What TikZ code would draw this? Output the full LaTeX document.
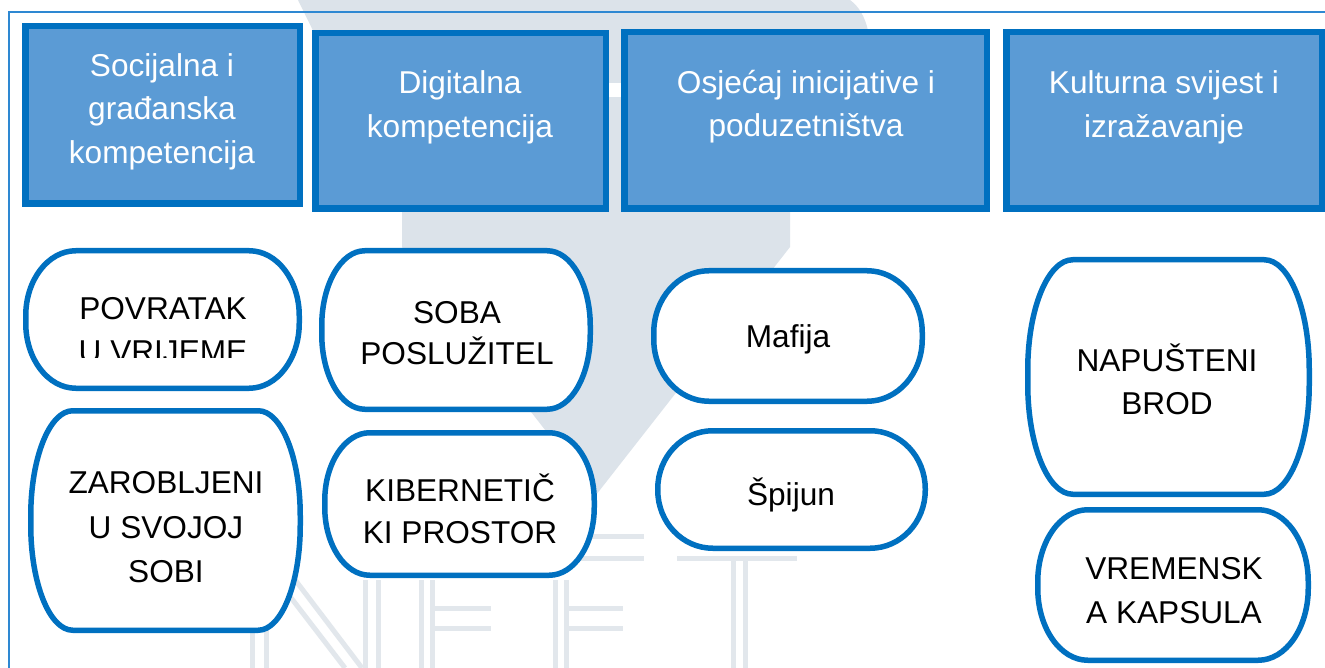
\documentclass[tikz,border=0pt]{standalone}
\usepackage{fontspec}
\setmainfont{Liberation Sans}
\definecolor{headfill}{HTML}{5B9BD5}
\definecolor{boxblue}{HTML}{0070C0}
\definecolor{framecol}{HTML}{2E88D2}
\definecolor{wm}{HTML}{DCE3EA}
\definecolor{wml}{HTML}{E2E7EC}
\newcommand\ls{\rule[-8.6pt]{0pt}{40pt}}
\newcommand\fsz[1]{\fontsize{31.6}{#1}\selectfont}
% rounded box with elliptic corners: outer x0 y0 x1 y1 rx ry
\newcommand\rbox[6]{%
  \draw[rboxline] ({#1+2.75+#5},{#2+2.75}) -- ({#3-2.75-#5},{#2+2.75})
    arc[start angle=-90,end angle=0,x radius=#5,y radius=#6]
    -- ({#3-2.75},{#4-2.75-#6})
    arc[start angle=0,end angle=90,x radius=#5,y radius=#6]
    -- ({#1+2.75+#5},{#4-2.75})
    arc[start angle=90,end angle=180,x radius=#5,y radius=#6]
    -- ({#1+2.75},{#2+2.75+#6})
    arc[start angle=180,end angle=270,x radius=#5,y radius=#6] -- cycle;}
\tikzset{
  rboxline/.style={draw=boxblue,fill=white,line width=5.5pt},
  head/.style={rectangle,draw=boxblue,fill=headfill,line width=6.5pt,inner sep=0pt},
  headtext/.style={text=white,align=center,inner sep=0pt,font=\fsz{43.5}},
  boxtext/.style={text=black,align=center,inner sep=0pt},
  wmline/.style={draw=wml,line width=5pt},
}
\begin{document}
\begin{tikzpicture}[x=1pt,y=-1pt]
\useasboundingbox (0,0) rectangle (1325,668);
\fill[white] (0,0) rectangle (1325,668);
% watermark
\fill[wm] (298,0) -- (850,0) .. controls (885,25) and (880,120) .. (790,212) -- (790,247) -- (596,495) -- (402,247) -- (402,212) -- cycle;
\fill[white] (600,83) rectangle (621,97);
\draw[wmline] (252,600) -- (252,668);
\draw[wmline] (266,600) -- (266,668);
\draw[wmline] (262,560) -- (345,668);
\draw[wmline] (280,560) -- (362,668);
\draw[wmline] (365,580) -- (365,668);
\draw[wmline] (378,580) -- (378,668);
\draw[wmline] (421,580) -- (421,668);
\draw[wmline] (432,580) -- (432,668);
\draw[wmline] (432,608) -- (491,608);
\draw[wmline] (432,628) -- (491,628);
\draw[wmline] (555,580) -- (555,668);
\draw[wmline] (566,580) -- (566,668);
\draw[wmline] (566,608) -- (623,608);
\draw[wmline] (566,628) -- (623,628);
\draw[wmline] (566,536) -- (644,536);
\draw[wmline] (566,558) -- (644,558);
\draw[wmline] (677,536) -- (797,536);
\draw[wmline] (677,558) -- (797,558);
\draw[wmline] (733,558) -- (733,668);
\draw[wmline] (745,558) -- (745,668);
% frame
\draw[framecol,line width=1.5pt] (1325,12) -- (9,12) -- (9,668);
% headers
\node[head,minimum width=274.5pt,minimum height=177.5pt] (h1) at (162.5,115) {};
\node[head,minimum width=290.5pt,minimum height=175.5pt] (h2) at (460.5,121) {};
\node[head,minimum width=362.5pt,minimum height=176.5pt] (h3) at (805.5,120.5) {};
\node[head,minimum width=315.5pt,minimum height=176.5pt] (h4) at (1164,120.5) {};
\node[headtext] (h1t) at (162,108.3) {\ls Socijalna i\\\ls građanska\\\ls kompetencija};
\node[headtext] (h2t) at (460,104) {\ls Digitalna\\\ls kompetencija};
\node[headtext] (h3t) at (806,103.5) {\ls Osjećaj inicijative i\\\ls poduzetništva};
\node[headtext] (h4t) at (1164,104) {\ls Kulturna svijest i\\\ls izražavanje};
% rounded boxes
\rbox{23}{248}{302}{391}{50}{65}
\rbox{28}{408}{303}{633}{42}{105}
\rbox{319}{248}{593}{412}{43}{75}
\rbox{322}{430}{597}{578}{45}{68}
\rbox{651}{268}{925}{404}{55}{62}
\rbox{655}{428}{928}{551}{55}{58}
\rbox{1025}{257}{1312}{497}{45}{110}
\rbox{1035}{507}{1311}{663}{50}{72}
\begin{scope}
\clip (23,248) rectangle (302,357);
\node[boxtext,font=\fsz{43.5}] (povratak) at (163,329.75) {\ls POVRATAK\\\ls U VRIJEME};
\end{scope}
\node[boxtext,font=\fsz{44.5}] (zarobljeni) at (166,526.7) {\ls ZAROBLJENI\\\ls U SVOJOJ\\\ls SOBI};
\node[boxtext,font=\fsz{41.6}] (soba) at (457,332.5) {\ls SOBA\\\ls POSLUŽITEL};
\node[boxtext,font=\fsz{42}] (kiber) at (460,511) {\ls KIBERNETIČ\\\ls KI PROSTOR};
\node[boxtext,font=\fsz{43}] (mafija) at (788,336) {\ls Mafija};
\node[boxtext,font=\fsz{43}] (spijun) at (791,494.5) {\ls Špijun};
\node[boxtext,font=\fsz{43}] (napusteni) at (1167,381.5) {\ls NAPUŠTENI\\\ls BROD};
\node[boxtext,font=\fsz{44}] (vremenska) at (1174,590) {\ls VREMENSK\\\ls A KAPSULA};
\end{tikzpicture}
\end{document}
